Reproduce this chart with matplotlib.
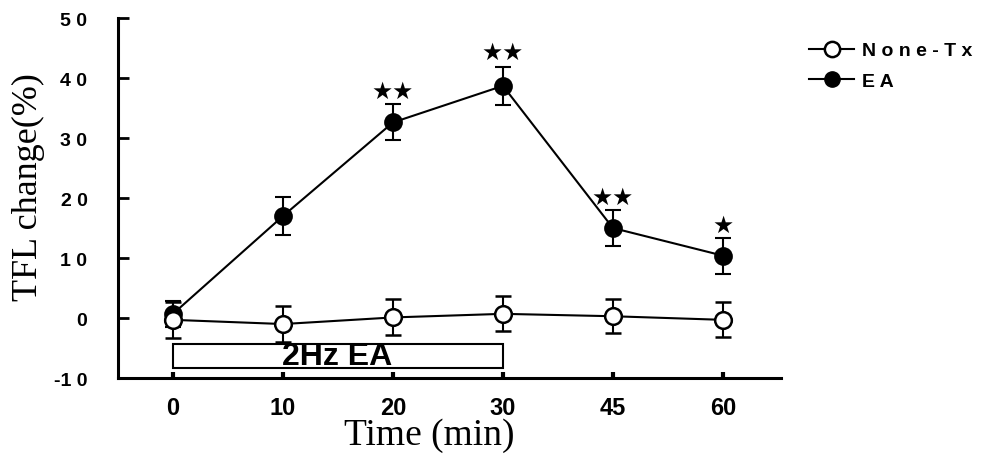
import matplotlib.pyplot as plt
from matplotlib.patches import Rectangle
from matplotlib.lines import Line2D

times = ['0', '10', '20', '30', '45', '60']
none_tx = [-0.3, -1.0, 0.1, 0.7, 0.3, -0.3]
none_tx_err = [3.0, 3.0, 3.0, 2.9, 2.8, 2.9]
ea = [0.7, 17.0, 32.6, 38.7, 15.0, 10.4]
ea_err = [2.2, 3.1, 3.0, 3.2, 3.0, 3.0]
stars = ['', '', '★★', '★★', '★★', '★']
star_y = [0, 0, 37.8, 44.4, 20.2, 15.5]

x = list(range(len(times)))

fig = plt.figure(figsize=(9.81, 4.6), dpi=100)
ax = fig.add_axes([0.1203, 0.176, 0.676, 0.7826])

ax.errorbar(x, ea, yerr=ea_err, color='black', lw=1.5, capsize=6, elinewidth=1.5,
            capthick=1.5, marker='o', markersize=12, markerfacecolor='black',
            markeredgecolor='black', markeredgewidth=1.5, zorder=3)
ax.errorbar(x, none_tx, yerr=none_tx_err, color='black', lw=1.5, capsize=6, elinewidth=1.5,
            capthick=1.5, marker='o', markersize=12, markerfacecolor='white',
            markeredgecolor='black', markeredgewidth=1.8, zorder=4)

for xi, s, yi in zip(x, stars, star_y):
    if s:
        ax.text(xi, yi, s, ha='center', va='center', fontsize=17, color='black')

# stimulation period box
ax.add_patch(Rectangle((0, -8.3), 3, 4.0, facecolor='white', edgecolor='black', lw=1.5, zorder=2))
ax.text(1.49, -6.3, '2Hz EA', ha='center', va='center', fontsize=23,
        fontweight='bold', family='Liberation Sans', zorder=5)

ax.set_xlim(-0.5, 5.53)
ax.set_ylim(-10, 50)
ax.set_xticks(x)
ax.set_xticklabels(times, fontsize=17, fontweight='bold', family='Liberation Sans')
ax.set_yticks(range(-10, 51, 10))
ax.set_yticklabels(['-1 0', '0', '1 0', '2 0', '3 0', '4 0', '5 0'], fontsize=14,
                   fontweight='bold', family='Liberation Sans')
ax.tick_params(axis='y', direction='in', length=8, width=2, pad=22)
ax.tick_params(axis='x', direction='in', length=4, width=3, pad=13)

for side in ['top', 'right']:
    ax.spines[side].set_visible(False)
for side in ['left', 'bottom']:
    ax.spines[side].set_linewidth(2.2)

ax.set_xlabel('Time (min)', fontsize=27, family='Liberation Serif')
ax.set_ylabel('TFL change(%)', fontsize=26, family='Liberation Serif')
ax.xaxis.set_label_coords(0.47, -0.11)
ax.yaxis.set_label_coords(-0.11, 0.533)

handles = [
    Line2D([], [], color='black', lw=1.5, marker='o', markersize=11,
           markerfacecolor='white', markeredgewidth=1.8),
    Line2D([], [], color='black', lw=1.5, marker='o', markersize=11,
           markerfacecolor='black'),
]
fig.legend(handles, ['N o n e - T x', 'E A'], loc='upper left',
           bbox_to_anchor=(0.807, 0.945), frameon=False, handlelength=2.3,
           handletextpad=0.4, labelspacing=0.65,
           prop={'family': 'Liberation Sans', 'weight': 'bold', 'size': 14})

fig.savefig('out.png', dpi=100)
